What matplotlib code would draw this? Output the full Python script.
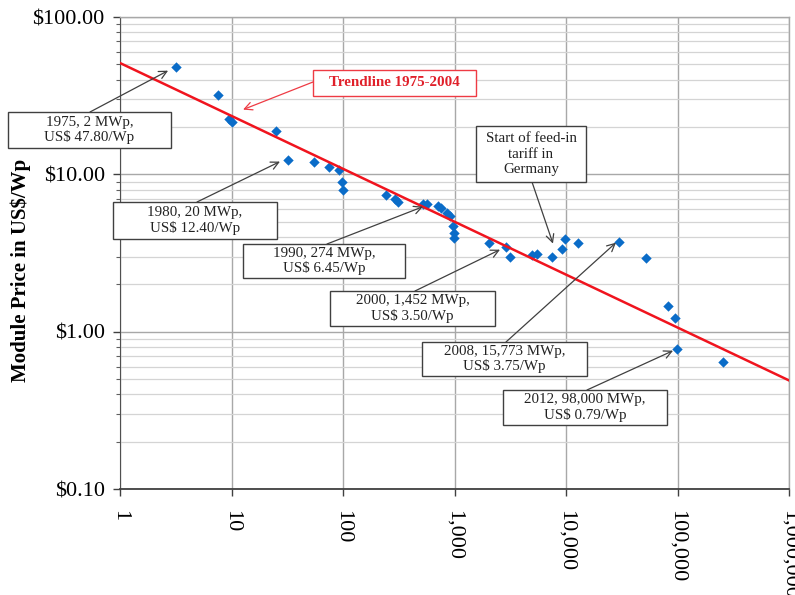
import matplotlib
matplotlib.use('Agg')
import matplotlib.pyplot as plt
from matplotlib.patches import Rectangle
from matplotlib.ticker import FixedLocator, FixedFormatter, LogLocator, NullLocator, NullFormatter

plt.rcParams['font.family'] = ['Liberation Serif', 'DejaVu Serif']

# ---- data (cumulative installed MWp vs module price US$/Wp) ----
cum_mw = [3.18, 7.57, 9.5, 10.1, 25.1, 32.1, 55, 74.9, 92, 98, 100,
          243, 293, 311, 522, 567, 711, 757, 857, 912, 970, 990, 990,
          2038, 2897, 3146, 4955, 5495, 7485, 9204, 9797, 12820, 29870,
          52150, 82200, 95000, 99000, 256000]
price = [47.8, 32.1, 22.6, 21.6, 18.9, 12.4, 12.05, 11.2, 10.6, 9.0, 8.0,
         7.43, 7.0, 6.7, 6.51, 6.51, 6.32, 6.14, 5.71, 5.46, 4.72, 4.26, 3.96,
         3.68, 3.47, 3.0, 3.09, 3.13, 3.0, 3.37, 3.9, 3.68, 3.73,
         2.95, 1.46, 1.23, 0.78, 0.645]

trend_x = [1, 1e6]
trend_y = [51.0, 0.49]

x_ticks = [1, 10, 100, 1000, 10000, 100000, 1000000]
x_labels = ['1', '10', '100', '1,000', '10,000', '100,000', '1,000,000']
y_ticks = [0.1, 1, 10, 100]
y_labels = ['\\$0.10', '\\$1.00', '\\$10.00', '\\$100.00']

# annotation texts, arrow tips (data)
ann_texts = ['1975, 2 MWp,\nUS\\$ 47.80/Wp',
             '1980, 20 MWp,\nUS\\$ 12.40/Wp',
             '1990, 274 MWp,\nUS\\$ 6.45/Wp',
             '2000, 1,452 MWp,\nUS\\$ 3.50/Wp',
             '2008, 15,773 MWp,\nUS\\$ 3.75/Wp',
             '2012, 98,000 MWp,\nUS\\$ 0.79/Wp',
             'Start of feed-in\ntariff in\nGermany']
ann_tip_x = [2.70, 27.2, 522, 2559, 28070, 91200, 7640]
ann_tip_y = [45.6, 12.05, 6.23, 3.32, 3.68, 0.757, 3.63]
trend_label = 'Trendline 1975-2004'
trend_tip = (12.7, 25.8)

# ---- layout (pixels, from top-left) ----
W, H = 795, 595
def fx(x):
    return x / W
def fy(y):
    return 1 - y / H

ann_boxes = [(8, 112, 163, 36), (113, 202, 164, 37), (243, 244, 162, 34),
             (330, 291, 165, 35), (422, 342, 165, 34), (503, 390, 164, 35),
             (476, 126, 110, 56)]
ann_spacing = [1.15, 1.15, 1.15, 1.15, 1.15, 1.15, 1.3]
ann_start = [(90, 112), (197, 202), (327, 244), (415, 291), (506, 342),
             (587, 390), (532, 182)]
trend_box = (313, 70, 163, 26)
trend_start = (313, 82)

fig = plt.figure(figsize=(W / 100, H / 100), dpi=100)
ax = fig.add_axes([fx(120), fy(489), (789 - 120) / W, (489 - 17) / H])

ax.set_xscale('log')
ax.set_yscale('log')
ax.set_xlim(1, 1e6)
ax.set_ylim(0.1, 100)

ax.scatter(cum_mw, price, marker='D', s=28, color='#0A6CC8', zorder=3, linewidths=0)
ax.plot(trend_x, trend_y, color='#F0141E', lw=1.8, zorder=4)

ax.xaxis.set_major_locator(FixedLocator(x_ticks))
ax.xaxis.set_major_formatter(FixedFormatter(x_labels))
ax.xaxis.set_minor_locator(NullLocator())
ax.yaxis.set_major_locator(FixedLocator(y_ticks))
ax.yaxis.set_major_formatter(FixedFormatter(y_labels))
ax.yaxis.set_minor_locator(LogLocator(base=10, subs=[2, 3, 4, 5, 6, 7, 8, 9]))
ax.yaxis.set_minor_formatter(NullFormatter())

for lab in ax.get_xticklabels():
    lab.set_rotation(-90)
    lab.set_fontsize(16)
for lab in ax.get_yticklabels():
    lab.set_fontsize(16)

ax.tick_params(axis='x', which='major', length=5, width=1, color='#404040', pad=10)
ax.tick_params(axis='y', which='major', length=5, width=1, color='#404040', pad=6)
ax.tick_params(axis='y', which='minor', length=3, width=0.8, color='#606060')

ax.grid(True, axis='x', which='major', color='#A8A8A8', lw=1.0)
ax.grid(True, axis='y', which='major', color='#A8A8A8', lw=1.0)
ax.grid(True, axis='y', which='minor', color='#D4D4D4', lw=0.9)
ax.set_axisbelow(True)

for s in ['top', 'right']:
    ax.spines[s].set_color('#A8A8A8')
    ax.spines[s].set_linewidth(1.0)
ax.spines['left'].set_color('#505050')
ax.spines['bottom'].set_color('#404040')
ax.spines['bottom'].set_linewidth(1.3)

fig.text(fx(21), fy(270), 'Module Price in US\\$/Wp', rotation=90, fontsize=15,
         fontweight='bold', ha='center', va='center')

# annotations
for txt, tx, ty, box, st, ls in zip(ann_texts, ann_tip_x, ann_tip_y, ann_boxes,
                                    ann_start, ann_spacing):
    x0, y0, w, h = box
    fig.add_artist(Rectangle((fx(x0), fy(y0 + h)), w / W, h / H, transform=fig.transFigure,
                             facecolor='white', edgecolor='#404040', lw=1.0, zorder=5))
    fig.text(fx(x0 + w / 2), fy(y0 + h / 2), txt, ha='center', va='center',
             fontsize=10.8, linespacing=ls, zorder=6, color='#222222')
    ax.annotate('', xy=(tx, ty), xycoords='data', xytext=(fx(st[0]), fy(st[1])),
                textcoords='figure fraction', annotation_clip=False,
                arrowprops=dict(arrowstyle='->', color='#404040', lw=0.9,
                                shrinkA=0, shrinkB=0, mutation_scale=14), zorder=5)

x0, y0, w, h = trend_box
fig.add_artist(Rectangle((fx(x0), fy(y0 + h)), w / W, h / H, transform=fig.transFigure,
                         facecolor='white', edgecolor='#EE3B44', lw=1.0, zorder=5))
fig.text(fx(x0 + w / 2), fy(y0 + h / 2), trend_label, ha='center', va='center',
         fontsize=10.8, fontweight='bold', color='#E0202A', zorder=6)
ax.annotate('', xy=trend_tip, xycoords='data', xytext=(fx(trend_start[0]), fy(trend_start[1])),
            textcoords='figure fraction', annotation_clip=False,
            arrowprops=dict(arrowstyle='->', color='#EE3B44', lw=0.9,
                            shrinkA=0, shrinkB=0, mutation_scale=14), zorder=5)

fig.savefig('out.png', dpi=100)
